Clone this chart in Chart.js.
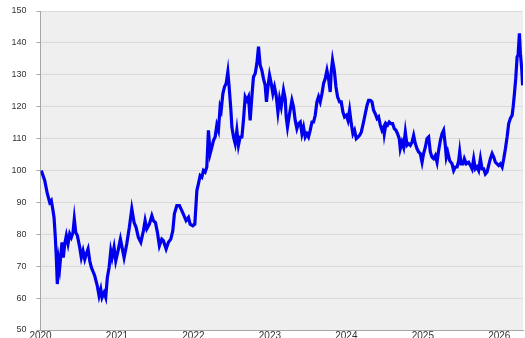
<!DOCTYPE html>
<html>
<head>
<meta charset="utf-8">
<script src="https://cdn.jsdelivr.net/npm/chart.js@4.4.1/dist/chart.umd.min.js"></script>
<style>
  html, body { margin: 0; padding: 0; background: #fff; overflow: hidden; }
  #wrap { width: 525px; height: 338px; }
  canvas { display: block; }
</style>
</head>
<body>
<div id="wrap"><canvas id="chart"></canvas></div>
<script>
// Index level (x in decimal years)
const years = [
  2020.010, 2020.055, 2020.089, 2020.120, 2020.141, 2020.164, 2020.177, 2020.194, 2020.207, 2020.220,
  2020.238, 2020.251, 2020.281, 2020.298, 2020.317, 2020.338, 2020.360, 2020.382, 2020.403, 2020.425,
  2020.442, 2020.461, 2020.482, 2020.513, 2020.534, 2020.556, 2020.579, 2020.599, 2020.622, 2020.644,
  2020.665, 2020.709, 2020.743, 2020.766, 2020.788, 2020.805, 2020.831, 2020.853, 2020.874, 2020.897,
  2020.919, 2020.936, 2020.962, 2020.984, 2021.014, 2021.045, 2021.076, 2021.093, 2021.128, 2021.162,
  2021.194, 2021.224, 2021.250, 2021.280, 2021.312, 2021.346, 2021.368, 2021.390, 2021.424, 2021.456,
  2021.476, 2021.503, 2021.529, 2021.555, 2021.586, 2021.607, 2021.643, 2021.673, 2021.704, 2021.730,
  2021.751, 2021.783, 2021.817, 2021.848, 2021.878, 2021.904, 2021.935, 2021.957, 2021.992, 2022.018,
  2022.045, 2022.065, 2022.088, 2022.110, 2022.131, 2022.153, 2022.175, 2022.196, 2022.219, 2022.241,
  2022.262, 2022.284, 2022.306, 2022.327, 2022.349, 2022.363, 2022.385, 2022.406, 2022.428, 2022.450,
  2022.467, 2022.490, 2022.503, 2022.524, 2022.546, 2022.568, 2022.589, 2022.611, 2022.634, 2022.654,
  2022.677, 2022.699, 2022.720, 2022.742, 2022.764, 2022.785, 2022.808, 2022.830, 2022.851, 2022.873,
  2022.895, 2022.916, 2022.938, 2022.955, 2022.974, 2022.995, 2023.017, 2023.039, 2023.060, 2023.082,
  2023.105, 2023.126, 2023.148, 2023.178, 2023.200, 2023.213, 2023.230, 2023.257, 2023.288, 2023.309,
  2023.331, 2023.353, 2023.374, 2023.397, 2023.419, 2023.440, 2023.462, 2023.484, 2023.505, 2023.527,
  2023.550, 2023.571, 2023.593, 2023.615, 2023.636, 2023.658, 2023.681, 2023.702, 2023.724, 2023.746,
  2023.767, 2023.789, 2023.802, 2023.819, 2023.842, 2023.864, 2023.885, 2023.911, 2023.933, 2023.955,
  2023.976, 2023.999, 2024.021, 2024.042, 2024.064, 2024.086, 2024.107, 2024.130, 2024.152, 2024.173,
  2024.195, 2024.225, 2024.247, 2024.270, 2024.291, 2024.313, 2024.335, 2024.356, 2024.378, 2024.401,
  2024.421, 2024.444, 2024.466, 2024.487, 2024.496, 2024.518, 2024.539, 2024.561, 2024.584, 2024.605,
  2024.627, 2024.649, 2024.670, 2024.692, 2024.705, 2024.728, 2024.749, 2024.771, 2024.793, 2024.814,
  2024.836, 2024.859, 2024.880, 2024.902, 2024.924, 2024.945, 2024.967, 2024.990, 2025.010, 2025.033,
  2025.055, 2025.076, 2025.098, 2025.120, 2025.141, 2025.164, 2025.186, 2025.207, 2025.229, 2025.251,
  2025.272, 2025.294, 2025.307, 2025.325, 2025.351, 2025.382, 2025.403, 2025.425, 2025.448, 2025.469,
  2025.482, 2025.500, 2025.526, 2025.543, 2025.569, 2025.599, 2025.622, 2025.644, 2025.665, 2025.687,
  2025.709, 2025.730, 2025.753, 2025.775, 2025.796, 2025.818, 2025.840, 2025.861, 2025.883, 2025.906,
  2025.927, 2025.949, 2025.971, 2025.992, 2026.014, 2026.037, 2026.058, 2026.080, 2026.102, 2026.123,
  2026.145, 2026.168, 2026.181, 2026.198, 2026.215, 2026.233, 2026.246, 2026.263, 2026.276, 2026.293,
  2026.305
];

const values = [
  100.0, 96.9, 92.8, 90.0, 90.6, 87.4, 85.3, 79.0, 72.7, 64.4,
  71.7, 69.6, 77.5, 72.7, 77.0, 79.6, 77.0, 80.1, 79.0, 80.6,
  84.8, 80.6, 79.6, 75.9, 72.7, 74.8, 72.2, 73.8, 75.4, 71.7,
  69.6, 67.0, 63.8, 60.7, 62.8, 60.2, 61.7, 60.2, 66.4, 69.6,
  74.8, 72.7, 75.9, 71.7, 74.8, 78.5, 74.8, 72.7, 77.0, 82.2,
  88.0, 83.7, 82.2, 79.0, 77.5, 81.1, 84.3, 81.7, 83.2, 85.8,
  84.3, 83.7, 80.6, 76.4, 78.5, 78.0, 75.4, 77.5, 78.5, 81.1,
  86.4, 89.0, 89.0, 87.4, 85.8, 84.3, 85.3, 83.2, 82.7, 83.2,
  93.7, 95.8, 98.4, 97.9, 100.0, 99.5, 101.1, 112.6, 105.3, 107.3,
  109.4, 110.5, 114.2, 112.6, 119.9, 118.9, 124.1, 126.2, 127.3, 130.9,
  126.2, 118.9, 113.6, 110.5, 108.4, 112.6, 107.9, 110.5, 110.5, 115.7,
  123.1, 122.0, 123.1, 115.7, 123.1, 129.3, 130.4, 133.6, 138.8, 133.0,
  131.4, 128.8, 126.7, 121.5, 126.2, 129.9, 127.3, 124.1, 126.2, 123.6,
  118.3, 122.5, 120.0, 125.2, 122.5, 116.8, 113.6, 117.8, 122.0, 119.9,
  115.7, 113.1, 114.7, 115.2, 111.5, 113.6, 110.5, 111.5, 110.5, 112.6,
  115.2, 115.2, 117.3, 121.5, 123.1, 121.5, 124.1, 127.3, 128.8, 131.4,
  128.8, 124.6, 130.9, 134.6, 131.4, 126.2, 123.1, 121.5, 121.5, 118.3,
  116.8, 117.3, 115.7, 118.9, 114.7, 111.5, 112.6, 110.0, 110.5, 111.0,
  112.0, 115.2, 117.8, 120.4, 122.0, 122.0, 121.5, 118.9, 117.8, 116.3,
  116.8, 114.2, 112.6, 113.6, 111.5, 114.7, 114.2, 115.2, 114.7, 114.7,
  113.1, 112.6, 111.5, 110.0, 106.8, 108.9, 107.3, 112.0, 107.9, 108.4,
  107.9, 108.9, 111.0, 108.4, 106.8, 105.8, 105.3, 102.6, 105.3, 107.3,
  110.0, 110.5, 105.8, 104.2, 103.7, 104.7, 102.6, 106.3, 109.4, 111.5,
  112.6, 107.9, 104.2, 105.8, 103.1, 102.1, 100.0, 101.1, 101.1, 103.1,
  105.8, 102.1, 102.1, 103.7, 102.1, 102.6, 101.6, 100.5, 103.7, 100.5,
  101.1, 100.0, 103.7, 100.5, 100.5, 98.9, 99.5, 101.6, 103.7, 105.3,
  104.2, 102.6, 102.1, 101.6, 102.1, 101.1, 103.7, 106.8, 110.5, 114.7,
  116.3, 117.3, 119.9, 124.1, 128.8, 135.6, 136.2, 143.0, 136.7, 132.0,
  126.7
];

const yearTicks = [2020, 2021, 2022, 2023, 2024, 2025, 2026];
const xMin = 2020, xMax = 2026.31;
const yMin = 50, yMax = 150, yStep = 10;

// grey plot background
const plotBackground = {
  id: 'plotBackground',
  beforeDraw(chart) {
    const { ctx, chartArea: a } = chart;
    ctx.save();
    ctx.fillStyle = '#efefef';
    ctx.fillRect(a.left, a.top, a.right - a.left, a.bottom - a.top);
    ctx.restore();
  }
};

const ctx = document.getElementById('chart').getContext('2d');
new Chart(ctx, {
  type: 'line',
  data: {
    datasets: [{
      data: years.map((x, i) => ({ x: x, y: values[i] })),
      borderColor: '#0000ee',
      borderWidth: 3.2,
      pointRadius: 0,
      tension: 0,
      fill: false
    }]
  },
  options: {
    responsive: true,
    maintainAspectRatio: false,
    animation: false,
    layout: { padding: { top: 11, right: 2, left: 0, bottom: 0 } },
    plugins: {
      legend: { display: false },
      tooltip: { enabled: false }
    },
    scales: {
      x: {
        type: 'linear',
        min: xMin,
        max: xMax,
        afterBuildTicks: scale => { scale.ticks = yearTicks.map(v => ({ value: v })); },
        afterFit: scale => { scale.height = 8; scale.paddingLeft = 0; scale.paddingRight = 0; },
        grid: { display: false, drawTicks: false },
        border: { display: true, color: '#a6a6a6', width: 1 },
        ticks: {
          padding: 0,
          maxRotation: 0,
          autoSkip: false,
          color: '#333',
          font: { family: 'Liberation Sans', size: 10 },
          callback: v => String(v)
        }
      },
      y: {
        min: yMin,
        max: yMax,
        afterFit: scale => { scale.width = 40.5; scale.paddingTop = 0; scale.paddingBottom = 0; },
        grid: { color: '#d9d9d9', lineWidth: 1, tickLength: 4, tickColor: '#a6a6a6' },
        border: { display: true, color: '#a6a6a6', width: 1 },
        ticks: {
          stepSize: yStep,
          padding: 10,
          color: '#333',
          font: { family: 'Liberation Sans', size: 9 }
        }
      }
    }
  },
  plugins: [plotBackground]
});
</script>
</body>
</html>
